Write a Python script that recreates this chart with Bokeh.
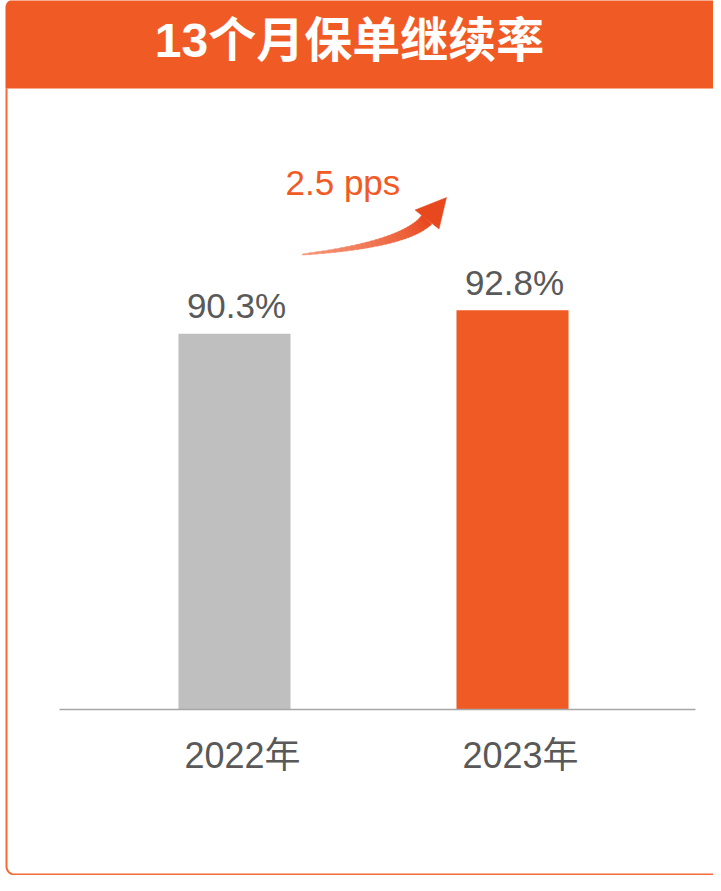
import math
from bokeh.plotting import figure
from bokeh.models import Range1d, ColumnDataSource
from bokeh.core.properties import value
from bokeh.embed import file_html
from bokeh.resources import INLINE

# ---- data ----
title_text = "13个月保单继续率"
categories = ["2022年", "2023年"]
rates = [90.3, 92.8]
bar_colors = ["#BFBFBF", "#F05A24"]
axis_min = 50
change_text = f"{rates[1] - rates[0]:.1f} pps"

W, H = 713, 875
ORANGE = "#F05A24"
GRAY_TXT = "#595959"
LATIN = "'Liberation Sans', 'Noto Sans CJK SC'"

p = figure(width=W, height=H,
           x_range=Range1d(-0.8417, 1.7230), y_range=Range1d(32.20, 126.02),
           output_backend="svg", toolbar_location=None,
           x_axis_location=None, y_axis_location=None,
           min_border=0, outline_line_color=None,
           background_fill_color="white", border_fill_color="white")
p.grid.visible = False
p.extra_x_ranges = {"px": Range1d(0, W)}
p.extra_y_ranges = {"px": Range1d(H, 0)}
PX = dict(x_range_name="px", y_range_name="px")

# ---- header band with rounded top-left corner ----
r = 8
hx, hy = [5], [88]
for k in range(0, 11):
    t = math.radians(90 * k / 10)
    hx.append(13 - r * math.cos(t))
    hy.append(7 - r * math.sin(t))
hx += [W + 2, W + 2]
hy += [-1, 88]
p.patch(hx, hy, fill_color=ORANGE, line_color=None, **PX)

# ---- left border with rounded bottom corner ----
bx, by = [6, 6], [88, 866]
for k in range(0, 11):
    t = math.radians(90 * k / 10)
    bx.append(14 - 8 * math.cos(t))
    by.append(866 + 8 * math.sin(t))
bx.append(W + 2); by.append(874)
p.line(bx, by, line_color="#F26B38", line_width=2, **PX)

# ---- title ----
p.text(x=[349], y=[40], text=[title_text], text_color="white",
       text_font=value(LATIN), text_font_size="48px", text_font_style="bold",
       text_align="center", text_baseline="middle", **PX)

# ---- bars ----
idx = list(range(len(categories)))
src = ColumnDataSource(dict(x=idx, top=rates, color=bar_colors,
                            lab=[f"{v:.1f}%" for v in rates],
                            cat=categories, base=[axis_min] * len(rates)))
p.vbar(x="x", top="top", bottom=axis_min, width=0.403, fill_color="color",
       line_color=None, source=src)

# baseline
p.segment(x0=[59], y0=[709], x1=[695], y1=[709], line_color="#A6A6A6",
          line_width=1.5, **PX)

# value labels
p.text(x="x", y="top", text="lab", source=src, text_color=GRAY_TXT,
       text_font=value(LATIN), text_font_size="35px", text_align="center",
       text_baseline="alphabetic", x_offset=2, y_offset=-28)

# category labels
p.text(x="x", y="base", text="cat", source=src, text_color=GRAY_TXT,
       text_font=value(LATIN), text_font_size="36px", text_align="center",
       text_baseline="alphabetic", x_offset=8, y_offset=46)

# ---- change arrow ----
P0, P1, P2 = (302, 254), (404, 244), (426.5, 219)
N = 30
def bez(t):
    return ((1 - t) ** 2 * P0[0] + 2 * (1 - t) * t * P1[0] + t ** 2 * P2[0],
            (1 - t) ** 2 * P0[1] + 2 * (1 - t) * t * P1[1] + t ** 2 * P2[1])
def dbez(t):
    return (2 * (1 - t) * (P1[0] - P0[0]) + 2 * t * (P2[0] - P1[0]),
            2 * (1 - t) * (P1[1] - P0[1]) + 2 * t * (P2[1] - P1[1]))
def edge(t):
    cx, cy = bez(t)
    dx, dy = dbez(t)
    n = math.hypot(dx, dy)
    nx, ny = -dy / n, dx / n
    w = 0.6 + 6.0 * t
    return (cx + nx * w, cy + ny * w), (cx - nx * w, cy - ny * w)
c0 = (246, 150, 120)
c1 = (232, 72, 30)
xs, ys, cols = [], [], []
for i in range(N):
    t0, t1 = i / N, (i + 1) / N
    a0, b0 = edge(t0)
    a1, b1 = edge(min(1.0, t1 + 0.01))
    xs.append([a0[0], a1[0], b1[0], b0[0]])
    ys.append([a0[1], a1[1], b1[1], b0[1]])
    f = (t0 + t1) / 2
    cols.append("#%02X%02X%02X" % tuple(int(c0[j] + (c1[j] - c0[j]) * f) for j in range(3)))
p.patches(xs, ys, fill_color=cols, line_color=cols, line_width=0.5, **PX)
p.patch([414.5, 446, 438.5], [209.5, 197, 228.5], fill_color="#E8481E",
        line_color="#E8481E", line_width=0.5, **PX)

p.text(x=[285], y=[182], text=[change_text], text_color=ORANGE,
       text_font=value(LATIN), text_font_size="35px", text_align="left",
       text_baseline="alphabetic", **PX)

open("out.html", "w").write(file_html(p, INLINE))
